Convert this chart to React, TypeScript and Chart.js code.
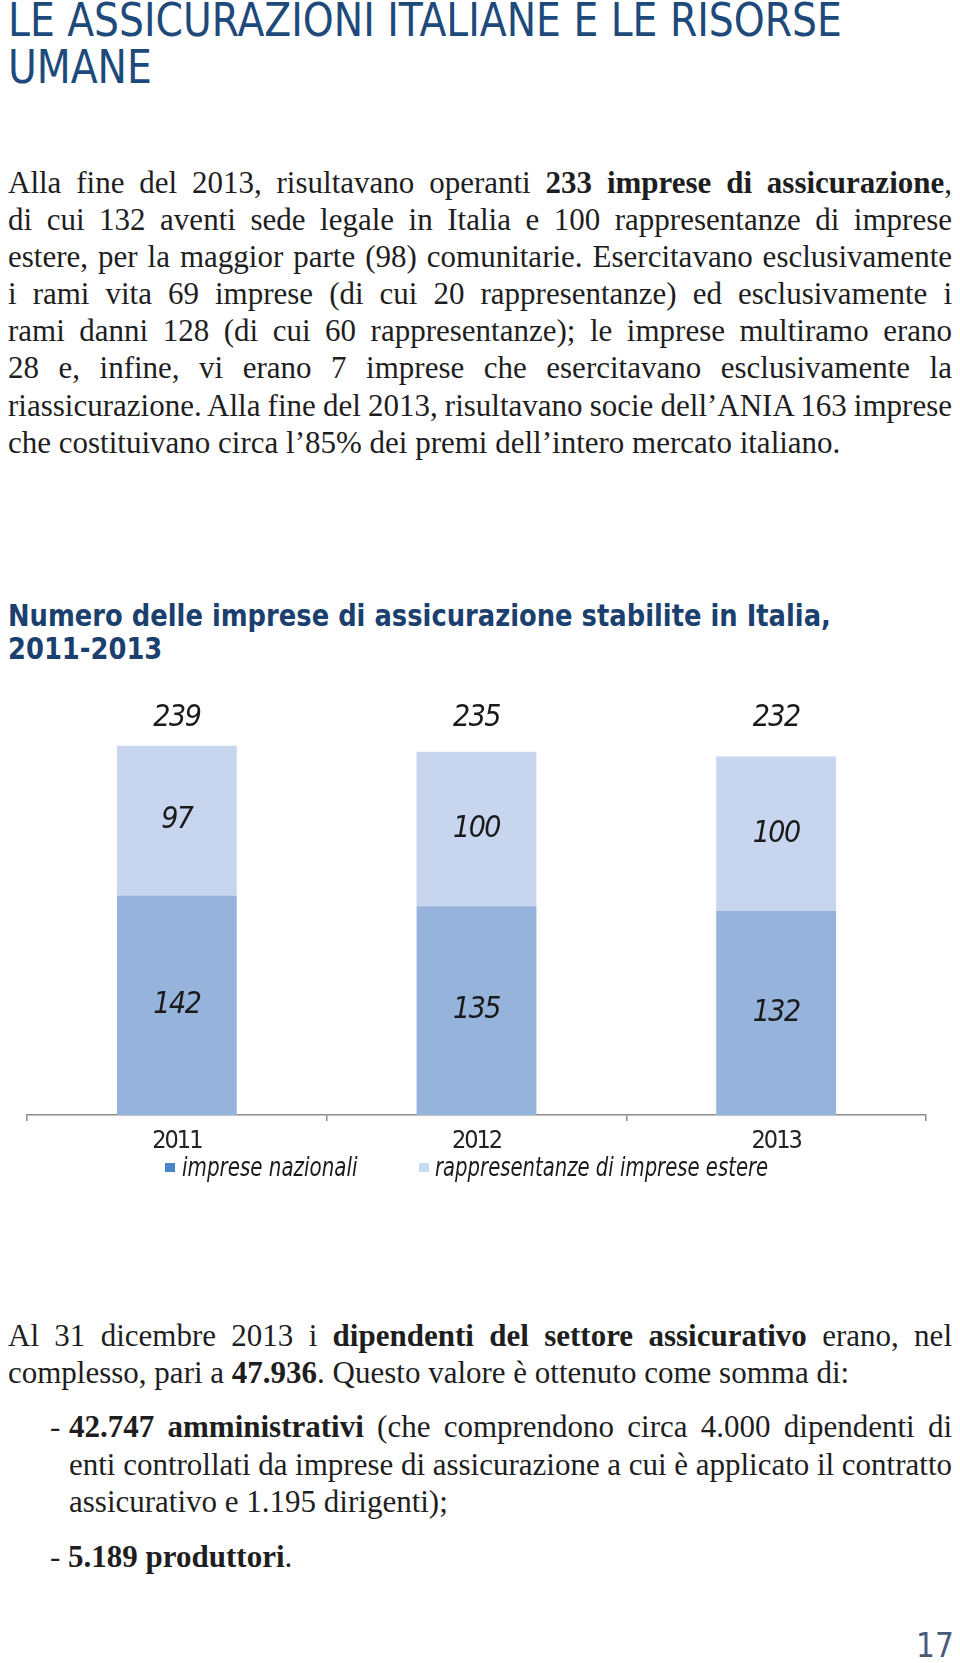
import React, { useEffect, useLayoutEffect, useRef } from "react";
import { Chart, registerables } from "chart.js";

Chart.register(...registerables);

// ---- data ----
const categories = ["2011", "2012", "2013"];
const impreseNazionali = [142, 135, 132];
const rappresentanzeEstere = [97, 100, 100];
const totals = [239, 235, 232];
const seriesNames = ["imprese nazionali", "rappresentanze di imprese estere"];
const seriesColors = ["#95b3db", "#c7d5ee"];
const legendColors = ["#4a86c7", "#c6dcf2"];

const NARROW = '"DejaVu Sans Condensed", "Liberation Sans Narrow", "Liberation Sans", sans-serif';
const SERIF = '"Liberation Serif", "DejaVu Serif", serif';

const labelPlugin = {
  id: "barLabels",
  beforeDraw(chart: any) {
    const ctx = chart.ctx as any;
    if ("letterSpacing" in ctx) ctx.letterSpacing = "-2px";
  },
  afterDatasetsDraw(chart: any) {
    const ctx = chart.ctx as any;
    ctx.save();
    if ("letterSpacing" in ctx) ctx.letterSpacing = "-1.5px";
    ctx.font = `italic 30px ${NARROW}`;
    ctx.fillStyle = "#1a1a1a";
    ctx.textAlign = "center";
    ctx.textBaseline = "middle";
    chart.data.datasets.forEach((ds: any, di: number) => {
      const meta = chart.getDatasetMeta(di);
      meta.data.forEach((bar: any, i: number) => {
        const { x, y, base } = bar.getProps(["x", "y", "base"], true);
        ctx.fillText(String(ds.data[i]), x, (y + base) / 2);
      });
    });
    // totals: aligned on one line above the tallest stack
    const topMeta = chart.getDatasetMeta(chart.data.datasets.length - 1);
    const tops = topMeta.data.map((bar: any) => bar.getProps(["y"], true).y);
    const lineY = Math.min(...tops) - 27;
    topMeta.data.forEach((bar: any, i: number) => {
      const { x } = bar.getProps(["x"], true);
      ctx.fillText(String(totals[i]), x, lineY);
    });
    ctx.restore();
  },
};

function BarChart() {
  const ref = useRef<HTMLCanvasElement | null>(null);
  useEffect(() => {
    if (!ref.current) return;
    const chart = new Chart(ref.current, {
      type: "bar",
      data: {
        labels: categories,
        datasets: [
          {
            label: seriesNames[0],
            data: impreseNazionali,
            backgroundColor: seriesColors[0],
            borderWidth: 0,
            barPercentage: 0.4,
            categoryPercentage: 1,
          },
          {
            label: seriesNames[1],
            data: rappresentanzeEstere,
            backgroundColor: seriesColors[1],
            borderWidth: 0,
            barPercentage: 0.4,
            categoryPercentage: 1,
          },
        ],
      },
      options: {
        responsive: false,
        animation: false,
        devicePixelRatio: 1,
        layout: { padding: { left: 27, right: 34, top: 0, bottom: 6 } },
        plugins: {
          legend: { display: false },
          tooltip: { enabled: false },
          title: { display: false },
        },
        scales: {
          x: {
            stacked: true,
            grid: {
              display: true,
              drawOnChartArea: false,
              drawTicks: true,
              tickLength: 6,
              offset: true,
              color: "#8c8c8c",
              lineWidth: 1.5,
            },
            border: { display: true, color: "#8c8c8c", width: 1.5 },
            ticks: {
              font: { family: NARROW, size: 25 },
              color: "#222222",
              padding: 5,
            },
          },
          y: {
            stacked: true,
            display: false,
            min: 0,
            max: 275,
          },
        },
      },
      plugins: [labelPlugin],
    });
    return () => chart.destroy();
  }, []);
  return (
    <canvas
      ref={ref}
      width={960}
      height={477}
      style={{ position: "absolute", left: 0, top: 690, width: 960, height: 477 }}
    />
  );
}

const bodyStyle: React.CSSProperties = {
  fontFamily: SERIF,
  fontSize: 31,
  color: "#1e1e1e",
};

// one typeset line; justified lines get their word spacing computed so they span `width`
function JLine({ children, width, last }: { children: React.ReactNode; width: number; last?: boolean }) {
  const ref = useRef<HTMLSpanElement | null>(null);
  useLayoutEffect(() => {
    const fit = () => {
      const el = ref.current;
      if (!el || last) return;
      el.style.wordSpacing = "0px";
      const w = el.getBoundingClientRect().width;
      const n = ((el.textContent || "").match(/ /g) || []).length;
      if (n > 0) el.style.wordSpacing = `${(width - w) / n}px`;
    };
    fit();
    if ((document as any).fonts && (document as any).fonts.ready) (document as any).fonts.ready.then(fit);
  }, [width, last]);
  return (
    <div style={{ whiteSpace: "nowrap", width }}>
      <span ref={ref}>{children}</span>
    </div>
  );
}

export default function App() {
  return (
    <div style={{ position: "absolute", left: 0, top: 0, width: 960, height: 1663, overflow: "hidden", background: "#fff" }}>
      <div
        style={{
          position: "absolute",
          left: 8,
          top: -3,
          fontFamily: NARROW,
          fontSize: 46,
          lineHeight: "47px",
          color: "#1d4a7b",
          whiteSpace: "nowrap",
          transform: "scaleX(0.95)",
          transformOrigin: "left top",
        }}
      >
        LE ASSICURAZIONI ITALIANE E LE RISORSE
        <br />
        UMANE
      </div>

      <div style={{ ...bodyStyle, position: "absolute", left: 8, top: 164, width: 944, lineHeight: "37.1px" }}>
        <JLine width={944}>
          Alla fine del 2013, risultavano operanti <b>233 imprese di assicurazione</b>,
        </JLine>
        <JLine width={944}>di cui 132 aventi sede legale in Italia e 100 rappresentanze di imprese</JLine>
        <JLine width={944}>estere, per la maggior parte (98) comunitarie. Esercitavano esclusivamente</JLine>
        <JLine width={944}>i rami vita 69 imprese (di cui 20 rappresentanze) ed esclusivamente i</JLine>
        <JLine width={944}>rami danni 128 (di cui 60 rappresentanze); le imprese multiramo erano</JLine>
        <JLine width={944}>28 e, infine, vi erano 7 imprese che esercitavano esclusivamente la</JLine>
        <JLine width={944}>riassicurazione. Alla fine del 2013, risultavano socie dell’ANIA 163 imprese</JLine>
        <JLine width={944} last>
          che costituivano circa l’85% dei premi dell’intero mercato italiano.
        </JLine>
      </div>

      <div
        style={{
          position: "absolute",
          left: 8,
          top: 599,
          fontFamily: NARROW,
          fontWeight: "bold",
          fontSize: 31,
          lineHeight: "33px",
          color: "#1b3f6e",
          whiteSpace: "nowrap",
          transform: "scaleX(0.925)",
          transformOrigin: "left top",
        }}
      >
        Numero delle imprese di assicurazione stabilite in Italia,
        <br />
        2011-2013
      </div>

      <BarChart />

      {/* legend */}
      <div
        style={{
          position: "absolute",
          left: 0,
          top: 1151,
          width: 960,
          height: 32,
          fontFamily: NARROW,
          fontStyle: "italic",
          fontSize: 26,
          lineHeight: "32px",
          color: "#1a1a1a",
          whiteSpace: "nowrap",
        }}
      >
        <span style={{ position: "absolute", left: 165, top: 12, width: 10, height: 9, background: legendColors[0] }} />
        <span style={{ position: "absolute", left: 182, top: 0, transform: "scaleX(0.85)", transformOrigin: "left top" }}>
          {seriesNames[0]}
        </span>
        <span style={{ position: "absolute", left: 419, top: 12, width: 10, height: 9, background: legendColors[1] }} />
        <span style={{ position: "absolute", left: 435, top: 0, transform: "scaleX(0.84)", transformOrigin: "left top" }}>
          {seriesNames[1]}
        </span>
      </div>

      <div style={{ ...bodyStyle, position: "absolute", left: 8, top: 1317, width: 944, lineHeight: "37px" }}>
        <JLine width={944}>
          Al 31 dicembre 2013 i <b>dipendenti del settore assicurativo</b> erano, nel
        </JLine>
        <JLine width={944} last>
          complesso, pari a <b>47.936</b>. Questo valore è ottenuto come somma di:
        </JLine>
      </div>

      <div style={{ ...bodyStyle, position: "absolute", left: 69, top: 1408, width: 883, lineHeight: "37.5px" }}>
        <span style={{ position: "absolute", left: -19, top: 0 }}>-</span>
        <JLine width={883}>
          <b>42.747 amministrativi</b> (che comprendono circa 4.000 dipendenti di
        </JLine>
        <JLine width={883}>enti controllati da imprese di assicurazione a cui è applicato il contratto</JLine>
        <JLine width={883} last>
          assicurativo e 1.195 dirigenti);
        </JLine>
      </div>

      <div style={{ ...bodyStyle, position: "absolute", left: 50, top: 1538, lineHeight: "37px", whiteSpace: "nowrap" }}>
        - <b>5.189 produttori</b>.
      </div>

      <div
        style={{
          position: "absolute",
          left: 916,
          top: 1629,
          fontFamily: NARROW,
          fontSize: 33,
          lineHeight: "33px",
          color: "#4a5a78",
        }}
      >
        17
      </div>
    </div>
  );
}
